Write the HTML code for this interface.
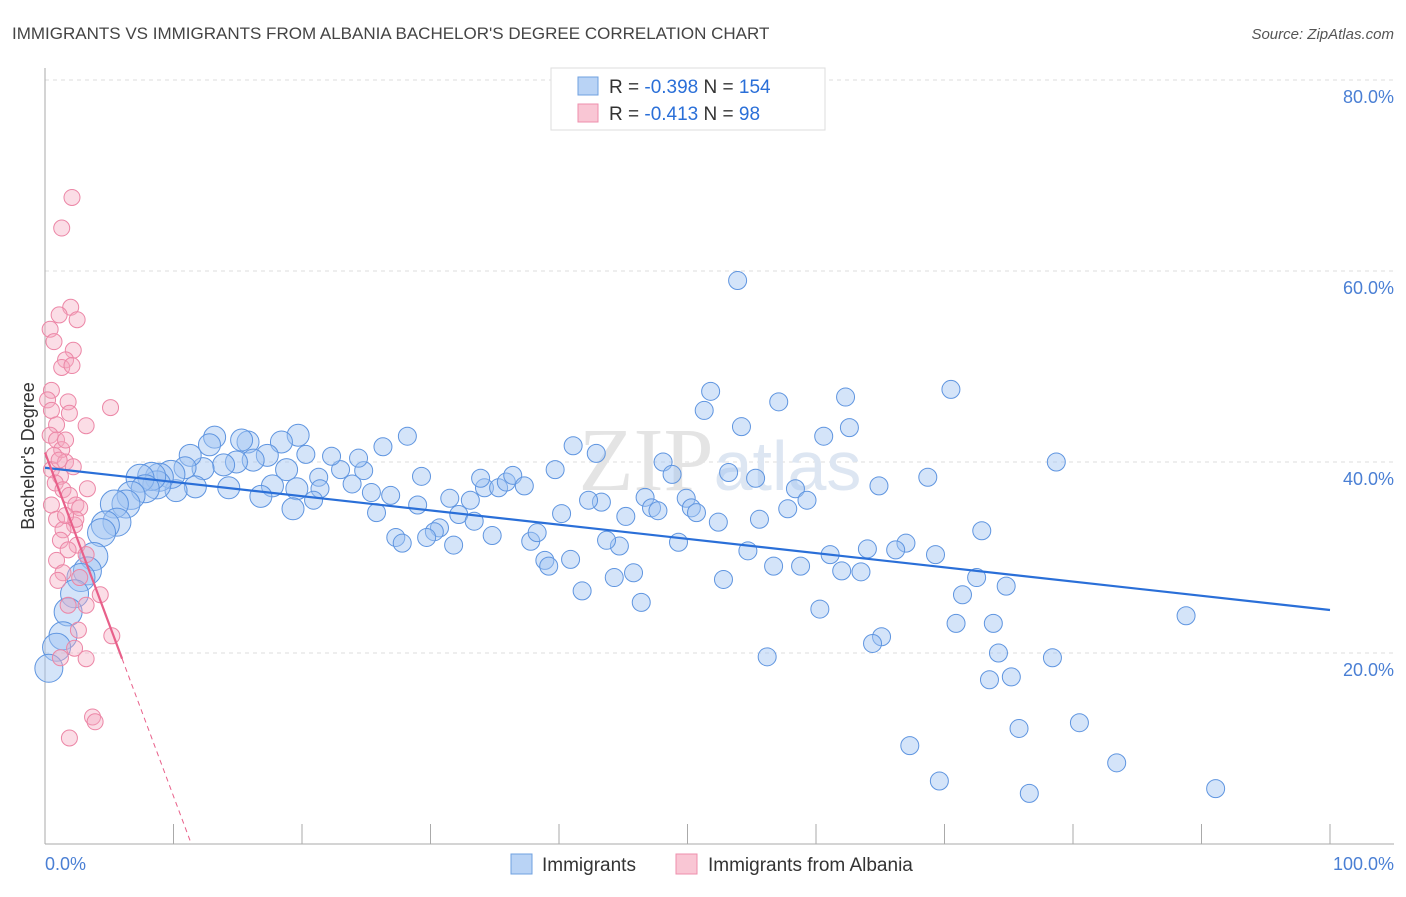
<!DOCTYPE html>
<html><head><meta charset="utf-8"><style>
body{margin:0;background:#fff;font-family:"Liberation Sans",sans-serif}
</style></head><body>
<svg width="1406" height="892" xmlns="http://www.w3.org/2000/svg" font-family="Liberation Sans, sans-serif">
<text x="12" y="39" font-size="17" fill="#444">IMMIGRANTS VS IMMIGRANTS FROM ALBANIA BACHELOR'S DEGREE CORRELATION CHART</text>
<text x="1394" y="39" font-size="15" fill="#555" text-anchor="end" font-style="italic">Source: ZipAtlas.com</text>
<g id="grid"></g>
<text x="720" y="490" font-size="90" fill="#e4e4e4" text-anchor="middle" font-family="Liberation Serif, serif">ZIP<tspan fill="#dde6f2" font-family="Liberation Sans, sans-serif" font-size="70">atlas</tspan></text>
<g id="blue"></g><g id="pink"></g><g id="trends"></g>
<text transform="translate(34,456) rotate(-90)" font-size="18" fill="#333" text-anchor="middle">Bachelor's Degree</text>
<text x="45" y="870" font-size="18" fill="#4a7fd4">0.0%</text>
<text x="1394" y="870" font-size="18" fill="#4a7fd4" text-anchor="end">100.0%</text>
<g>
<rect x="551" y="68" width="274" height="62" fill="#fff" stroke="#ddd"/>
<rect x="578" y="77" width="20" height="18" fill="#b9d3f5" stroke="#6fa0e0"/>
<rect x="578" y="104" width="20" height="18" fill="#f9c6d4" stroke="#ee8fac"/>
<text x="609" y="93" font-size="19" fill="#333">R = <tspan fill="#2a6fd8">-0.398</tspan>   N = <tspan fill="#2a6fd8">154</tspan></text>
<text x="609" y="120" font-size="19" fill="#333">R = <tspan fill="#2a6fd8"> -0.413</tspan>   N = <tspan fill="#2a6fd8">  98</tspan></text>
</g>
<g>
<rect x="511" y="854" width="21" height="20" fill="#b9d3f5" stroke="#6fa0e0"/>
<text x="542" y="871" font-size="19" fill="#333">Immigrants</text>
<rect x="676" y="854" width="21" height="20" fill="#f9c6d4" stroke="#ee8fac"/>
<text x="708" y="871" font-size="19" fill="#333">Immigrants from Albania</text>
</g>
</svg>
<script>
const yTicks=[20,40,60,80];
const xTicks=[0,10,20,30,40,50,60,70,80,90,100];
const blueX=[53.9,70.5,51.8,57.1,62.3,51.3,54.2,62.6,60.6,78.7,48.1,42.9,41.1,39.7,53.2,55.3,48.8,58.4,64.9,68.7,59.3,49.9,46.7,50.3,50.7,47.2,47.7,43.3,42.3,45.2,55.6,52.4,57.8,72.9,67.0,66.2,64.0,69.3,61.1,54.7,49.3,44.7,43.7,40.9,38.9,39.2,37.8,38.3,34.8,31.8,30.7,30.3,29.7,27.3,27.8,29.0,32.2,33.4,33.1,31.5,34.2,33.9,35.3,35.9,36.4,37.3,40.2,25.8,26.9,25.4,23.9,24.8,23.0,22.3,24.4,26.3,28.2,29.3,21.3,21.4,19.6,19.3,20.9,18.8,20.3,19.7,18.4,17.3,17.7,16.8,15.8,15.3,16.2,14.9,14.3,13.9,13.2,12.8,12.3,11.7,11.3,10.9,10.2,9.8,8.9,8.7,8.3,7.4,7.8,6.7,6.3,5.4,5.6,4.7,4.4,3.8,3.3,2.8,2.3,1.8,1.4,0.9,0.3,56.7,58.8,62.0,63.5,72.5,74.8,71.4,52.8,44.3,45.8,46.4,41.8,60.3,70.9,73.8,88.8,65.1,64.4,74.2,78.4,56.2,75.2,73.5,75.8,80.5,67.3,83.4,69.6,76.6,91.1];
const blueY=[59.0,47.6,47.4,46.3,46.8,45.4,43.7,43.6,42.7,40.0,40.0,40.9,41.7,39.2,38.9,38.3,38.7,37.2,37.5,38.4,36.0,36.2,36.3,35.2,34.7,35.2,34.9,35.8,36.0,34.3,34.0,33.7,35.1,32.8,31.5,30.8,30.9,30.3,30.3,30.7,31.6,31.2,31.8,29.8,29.7,29.1,31.7,32.6,32.3,31.3,33.1,32.7,32.1,32.1,31.5,35.5,34.5,33.8,36.0,36.2,37.3,38.3,37.3,37.9,38.6,37.5,34.6,34.7,36.5,36.8,37.7,39.1,39.2,40.6,40.4,41.6,42.7,38.5,38.4,37.2,37.2,35.1,36.0,39.2,40.8,42.8,42.1,40.7,37.5,36.4,42.1,42.3,40.2,40.0,37.3,39.7,42.6,41.8,39.3,37.4,40.7,39.4,37.0,38.7,38.4,37.6,38.5,38.3,37.2,36.5,35.6,35.6,33.7,33.4,32.6,30.1,28.6,27.9,26.2,24.3,21.8,20.6,18.4,29.1,29.1,28.6,28.5,27.9,27.0,26.1,27.7,27.9,28.4,25.3,26.5,24.6,23.1,23.1,23.9,21.7,21.0,20.0,19.5,19.6,17.5,17.2,12.1,12.7,10.3,8.5,6.6,5.3,5.8];
const pinkX=[2.1,1.3,2.0,1.1,2.5,0.4,0.7,2.2,1.6,1.3,2.1,0.5,1.8,0.2,5.1,0.5,1.9,0.9,3.2,0.4,0.9,1.3,0.7,1.6,2.2,0.5,1.2,0.8,1.4,1.9,3.3,2.4,0.5,2.7,0.9,2.3,1.4,1.2,2.5,1.8,3.2,0.9,1.4,2.7,1.0,4.3,1.8,3.2,2.6,5.2,2.3,3.2,1.2,3.7,3.9,1.9,1.6,1.1,2.4,1.6];
const pinkY=[67.7,64.5,56.2,55.4,54.9,53.9,52.6,51.7,50.7,49.9,50.1,47.5,46.3,46.5,45.7,45.4,45.1,43.9,43.8,42.8,42.3,41.3,40.7,40.0,39.5,39.2,38.5,37.8,37.1,36.5,37.2,35.5,35.5,35.2,34.0,33.4,32.9,31.8,31.3,30.8,30.3,29.7,28.4,27.9,27.6,26.1,25.0,25.0,22.4,21.8,20.5,19.4,19.5,13.3,12.8,11.1,42.3,40.2,34.0,34.4];
const blueTrend=[39.4,24.5];
const pinkTrend=[41.0,-3.6];
const X0=45,X1=1330,Y0=844,YS=191/20;
const sx=v=>X0+(v/100)*(X1-X0), sy=v=>Y0-v*YS;
const NS='http://www.w3.org/2000/svg';
function mk(tag,attrs,parent){const e=document.createElementNS(NS,tag);for(const k in attrs)e.setAttribute(k,attrs[k]);parent.appendChild(e);return e;}
const grid=document.getElementById('grid');
yTicks.forEach(t=>{
 const l=mk('line',{x1:X0,x2:1394,y1:sy(t),y2:sy(t),stroke:'#ddd','stroke-dasharray':'4,4'},grid);
 
 
 const tx=mk('text',{x:1394,y:sy(t)+23,'font-size':18,fill:'#4a7fd4','text-anchor':'end'},grid);
 tx.textContent=t.toFixed(1)+'%';
 
 
});
const ax=mk('line',{x1:X0,x2:X0,y1:68,y2:Y0,stroke:'#aaa'},grid);


const bx=mk('line',{x1:X0,x2:1394,y1:Y0,y2:Y0,stroke:'#aaa'},grid);


xTicks.forEach(t=>{
 const l=mk('line',{x1:sx(t),x2:sx(t),y1:Y0-20,y2:Y0,stroke:'#aaa'},grid);
 
 
});
const bg=document.getElementById('blue');
blueX.forEach((x,i)=>{
 const r=x<10?14:(x<20?11:9);
 const c=mk('circle',{cx:sx(x),cy:sy(blueY[i]),r:r,fill:'rgba(160,196,242,0.45)',stroke:'#5f95e0','stroke-width':1},bg);
 
 
});
const pg=document.getElementById('pink');
pinkX.forEach((x,i)=>{
 const c=mk('circle',{cx:sx(x),cy:sy(pinkY[i]),r:8,fill:'rgba(246,170,192,0.4)',stroke:'#ec86a6','stroke-width':1},pg);
 
 
});
const tg=document.getElementById('trends');
const bl=mk('line',{x1:sx(0),y1:sy(blueTrend[0]),x2:sx(100),y2:sy(blueTrend[1]),stroke:'#2a6fd8','stroke-width':2.2},tg);


const pEnd=6, pZero=-pinkTrend[0]/pinkTrend[1];
const pl=mk('line',{x1:sx(0),y1:sy(pinkTrend[0]),x2:sx(pEnd),y2:sy(pinkTrend[0]+pinkTrend[1]*pEnd),stroke:'#e8608a','stroke-width':2.2},tg);


const pd=mk('line',{x1:sx(pEnd),y1:sy(pinkTrend[0]+pinkTrend[1]*pEnd),x2:sx(pZero),y2:sy(0),stroke:'#e8608a','stroke-width':1,'stroke-dasharray':'5,4'},tg);


</script>
</body></html>
